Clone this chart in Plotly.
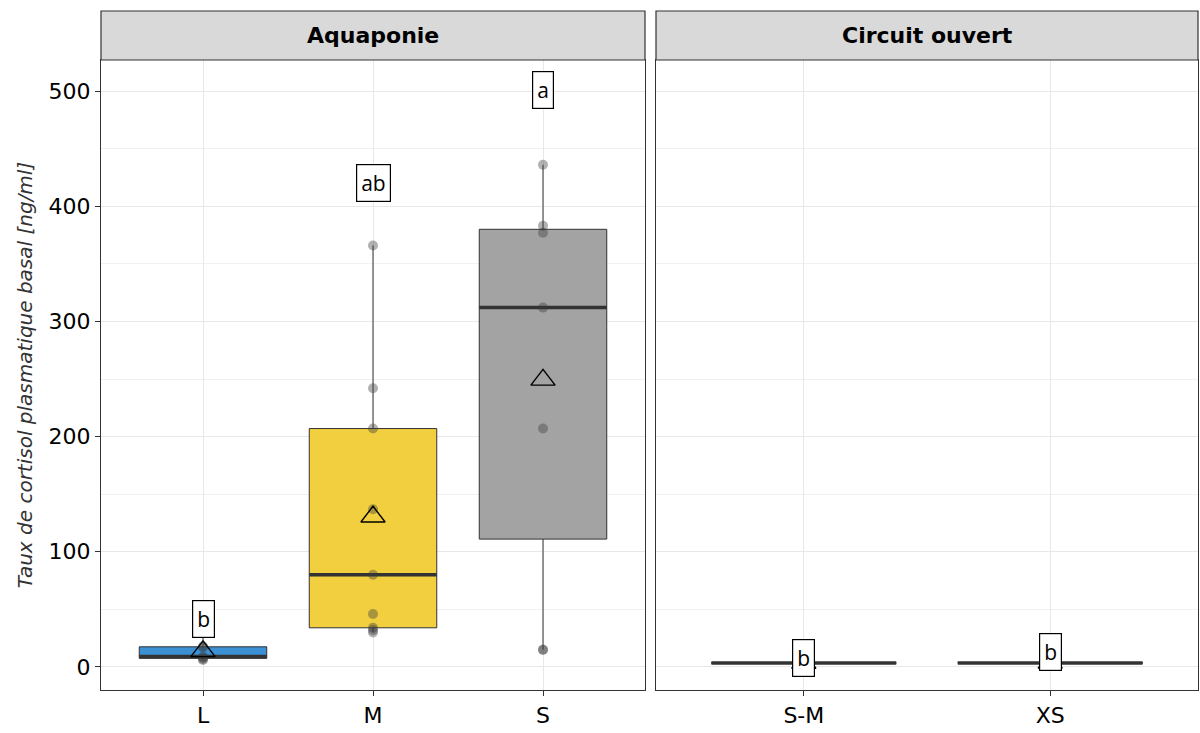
import numpy as np
import plotly.graph_objects as go

# ---- data -------------------------------------------------------------
# Aquaponie system: basal plasma cortisol (ng/ml) per size class
aqua_groups = ["L", "M", "S"]
aqua_L = [6, 7, 8, 9, 17, 18, 30]
aqua_M = [30, 32, 34, 46, 80, 137, 207, 242, 366]
aqua_S = [15, 15, 207, 312, 377, 383, 436]
aqua_colors = ["#3B91D3", "#F1CF3E", "#A3A3A3"]
aqua_letters = ["b", "ab", "a"]
aqua_letter_y = [42, 420, 501]

# Open circuit system
open_groups = ["S-M", "XS"]
open_SM = [3.0, 3.3, 3.5, 3.5, 3.6, 3.8]
open_XS = [3.1, 3.4, 3.5, 3.5, 3.7, 3.9]
open_colors = ["#8FB9A8", "#D98C8C"]
open_letters = ["b", "b"]
open_letter_y = [8, 13]

y_ticks = [0, 100, 200, 300, 400, 500]
panel_titles = ["Aquaponie", "Circuit ouvert"]

# ---- helpers ----------------------------------------------------------
BOX_W = 0.75
LINE_C = "#333333"
FONT = "DejaVu Sans"


def box_stats(values):
    v = np.asarray(values, dtype=float)
    q1, med, q3 = np.percentile(v, [25, 50, 75])
    iqr = q3 - q1
    lf = v[v >= q1 - 1.5 * iqr].min()
    uf = v[v <= q3 + 1.5 * iqr].max()
    return q1, med, q3, lf, uf, v.mean()


def add_panel(fig, series, colors, letters, letter_y, xa, ya):
    for i, (vals, col, lab, ly) in enumerate(zip(series, colors, letters, letter_y)):
        pos = i + 1
        q1, med, q3, lf, uf, mean = box_stats(vals)
        fig.add_trace(go.Box(
            x=[pos], q1=[q1], median=[med], q3=[q3],
            lowerfence=[lf], upperfence=[uf],
            width=BOX_W, whiskerwidth=0, boxpoints=False,
            fillcolor=col, line=dict(color=LINE_C, width=1),
            xaxis=xa, yaxis=ya, showlegend=False, hoverinfo="skip"))
        # thicker median bar
        fig.add_trace(go.Scatter(
            x=[pos - BOX_W / 2, pos + BOX_W / 2], y=[med, med],
            mode="lines", line=dict(color=LINE_C, width=3.5),
            xaxis=xa, yaxis=ya, showlegend=False, hoverinfo="skip"))
        # individual observations
        fig.add_trace(go.Scatter(
            x=[pos] * len(vals), y=vals, mode="markers",
            marker=dict(size=10, color="rgba(60,60,60,0.4)", line=dict(width=0)),
            xaxis=xa, yaxis=ya, showlegend=False, hoverinfo="skip"))
        # group mean
        fig.add_trace(go.Scatter(
            x=[pos], y=[mean], mode="markers",
            marker=dict(symbol="triangle-up-open", size=21, color="black",
                        line=dict(width=1.4, color="black")),
            xaxis=xa, yaxis=ya, showlegend=False, hoverinfo="skip"))
        # significance letter
        fig.add_annotation(
            x=pos, y=ly, xref=xa, yref=ya, text=lab, showarrow=False,
            font=dict(family="Open Sans", size=21, color="black"),
            bgcolor="white", bordercolor="black", borderwidth=1.2, borderpad=4)


fig = go.Figure()
add_panel(fig, [aqua_L, aqua_M, aqua_S], aqua_colors, aqua_letters, aqua_letter_y, "x", "y")
add_panel(fig, [open_SM, open_XS], open_colors, open_letters, open_letter_y, "x2", "y2")

# ---- layout -----------------------------------------------------------
W, H = 1200, 733
left_dom = [101 / W, 645 / W]
right_dom = [656 / W, 1198 / W]
y_dom = [(H - 690) / H, (H - 60) / H]
strip_top = (H - 11) / H

grid_major = "#E8E8E8"
grid_minor = "#F1F1F1"

common_x = dict(showline=True, mirror=True, linecolor=LINE_C, linewidth=1.2,
                showgrid=True, gridcolor=grid_major, gridwidth=1.2, zeroline=False,
                ticks="outside", ticklen=5, tickcolor=LINE_C, tickwidth=1,
                tickfont=dict(family=FONT, size=22, color="black"))
common_y = dict(range=[-20, 527], showline=True, mirror=True, linecolor=LINE_C,
                linewidth=1.2, showgrid=True, gridcolor=grid_major, gridwidth=1.2,
                zeroline=False, tickvals=y_ticks,
                minor=dict(dtick=50, showgrid=True, gridcolor=grid_minor, gridwidth=0.9))

fig.update_layout(
    width=W, height=H,
    margin=dict(l=0, r=0, t=0, b=0),
    paper_bgcolor="white", plot_bgcolor="white",
    xaxis=dict(domain=left_dom, range=[0.4, 3.6], tickvals=[1, 2, 3],
               ticktext=aqua_groups, anchor="y", **common_x),
    xaxis2=dict(domain=right_dom, range=[0.4, 2.6], tickvals=[1, 2],
                ticktext=open_groups, anchor="y2", **common_x),
    yaxis=dict(domain=y_dom, anchor="x", ticks="outside", ticklen=5,
               tickcolor=LINE_C, tickwidth=1,
               tickfont=dict(family=FONT, size=22, color="black"),
               title=dict(text="<i>Taux de cortisol plasmatique basal [ng/ml]</i>",
                          font=dict(family=FONT, size=20, color="#333333"),
                          standoff=10),
               **common_y),
    yaxis2=dict(domain=y_dom, anchor="x2", matches="y", showticklabels=False,
                ticks="", **common_y),
)

# facet strips
for dom, title in zip([left_dom, right_dom], panel_titles):
    fig.add_shape(type="rect", xref="paper", yref="paper",
                  x0=dom[0], x1=dom[1], y0=y_dom[1], y1=strip_top,
                  fillcolor="#D9D9D9", line=dict(color=LINE_C, width=1.2))
    fig.add_annotation(xref="paper", yref="paper", x=(dom[0] + dom[1]) / 2,
                       y=(y_dom[1] + strip_top) / 2, text=f"<b>{title}</b>",
                       showarrow=False, xanchor="center", yanchor="middle",
                       font=dict(family=FONT, size=22, color="black"))

fig.write_html("out.html")
